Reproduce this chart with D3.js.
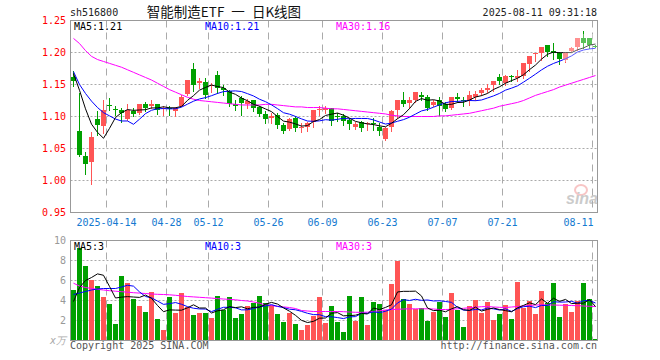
<!DOCTYPE html>
<html><head><meta charset="utf-8">
<script src="https://cdn.jsdelivr.net/npm/d3@7"></script>
<style>body{margin:0;background:#fff}svg{display:block}</style>
</head><body><svg id="c" width="660" height="360"></svg>
<script>
const dates = ["04-03","04-07","04-08","04-09","04-10","04-11","04-14","04-15","04-16","04-17","04-18","04-21","04-22","04-23","04-24","04-25","04-28","04-29","04-30","05-06","05-07","05-08","05-09","05-12","05-13","05-14","05-15","05-16","05-19","05-20","05-21","05-22","05-23","05-26","05-27","05-28","05-29","05-30","06-03","06-04","06-05","06-06","06-09","06-10","06-11","06-12","06-13","06-16","06-17","06-18","06-19","06-20","06-23","06-24","06-25","06-26","06-27","06-30","07-01","07-02","07-03","07-04","07-07","07-08","07-09","07-10","07-11","07-14","07-15","07-16","07-17","07-18","07-21","07-22","07-23","07-24","07-25","07-28","07-29","07-30","07-31","08-01","08-04","08-05","08-06","08-07","08-08","08-11"];
const open  = [1.162,1.077,1.039,1.029,1.096,1.085,1.118,1.112,1.110,1.096,1.109,1.106,1.119,1.117,1.120,1.111,1.113,1.109,1.117,1.135,1.174,1.153,1.154,1.148,1.165,1.144,1.140,1.119,1.129,1.119,1.125,1.115,1.104,1.098,1.102,1.086,1.081,1.097,1.082,1.083,1.092,1.110,1.110,1.113,1.100,1.100,1.094,1.083,1.091,1.088,1.090,1.083,1.065,1.083,1.110,1.126,1.121,1.126,1.134,1.130,1.118,1.125,1.119,1.113,1.131,1.126,1.125,1.131,1.137,1.141,1.150,1.161,1.152,1.163,1.160,1.163,1.182,1.197,1.199,1.211,1.202,1.199,1.189,1.203,1.209,1.223,1.223,1.210];
const high  = [1.171,1.137,1.045,1.076,1.109,1.126,1.129,1.116,1.113,1.120,1.113,1.120,1.122,1.126,1.120,1.117,1.117,1.115,1.134,1.157,1.184,1.160,1.160,1.152,1.171,1.150,1.141,1.126,1.132,1.127,1.125,1.117,1.108,1.105,1.105,1.090,1.098,1.100,1.090,1.092,1.110,1.116,1.117,1.114,1.105,1.104,1.097,1.092,1.093,1.092,1.097,1.090,1.084,1.110,1.126,1.138,1.131,1.138,1.138,1.134,1.125,1.131,1.122,1.131,1.137,1.130,1.140,1.140,1.144,1.151,1.156,1.166,1.165,1.165,1.173,1.183,1.195,1.200,1.208,1.211,1.215,1.201,1.201,1.209,1.223,1.233,1.223,1.212];
const low   = [1.147,1.038,1.010,0.995,1.071,1.075,1.110,1.102,1.091,1.095,1.100,1.104,1.109,1.113,1.104,1.103,1.103,1.100,1.116,1.134,1.140,1.144,1.129,1.139,1.137,1.133,1.117,1.110,1.103,1.114,1.109,1.100,1.090,1.090,1.082,1.074,1.079,1.077,1.076,1.077,1.084,1.102,1.105,1.086,1.093,1.087,1.081,1.081,1.077,1.079,1.079,1.071,1.064,1.077,1.097,1.116,1.113,1.122,1.126,1.110,1.116,1.102,1.109,1.112,1.122,1.117,1.118,1.126,1.134,1.138,1.140,1.151,1.150,1.156,1.155,1.160,1.171,1.187,1.189,1.194,1.190,1.182,1.185,1.202,1.204,1.207,1.207,1.208];
const close = [1.156,1.040,1.026,1.068,1.086,1.110,1.117,1.111,1.106,1.110,1.104,1.120,1.113,1.120,1.110,1.113,1.112,1.113,1.131,1.157,1.150,1.155,1.134,1.150,1.145,1.142,1.119,1.117,1.121,1.124,1.114,1.104,1.096,1.100,1.086,1.078,1.096,1.082,1.083,1.090,1.110,1.111,1.114,1.093,1.099,1.093,1.088,1.089,1.082,1.090,1.088,1.078,1.082,1.109,1.126,1.119,1.126,1.138,1.131,1.113,1.123,1.116,1.112,1.131,1.127,1.125,1.134,1.135,1.142,1.144,1.156,1.155,1.163,1.162,1.163,1.183,1.195,1.199,1.208,1.201,1.200,1.190,1.201,1.207,1.223,1.215,1.212,1.209];
const volume = [5.07,9.23,7.47,6.07,5.47,4.37,3.67,1.67,6.5,5.73,4.17,3.47,2.87,4.83,2.17,1.07,4.37,2.77,4.77,3.37,2.57,2.77,2.77,2.27,4.47,3.07,4.37,2.27,2.67,3.47,3.8,4.47,3.73,3.57,2.67,1.87,2.8,1.67,1.07,1.57,2.47,4.37,1.77,3.47,1.87,0.87,4.47,1.97,4.37,1.57,3.87,3.67,3.07,5.67,8.0,4.17,3.67,3.17,3.27,1.97,2.87,3.87,2.37,4.77,3.03,1.37,3.47,4.07,2.77,3.87,2.07,2.67,3.57,2.17,5.87,3.27,3.97,2.67,4.97,3.77,5.77,2.37,3.67,2.87,3.97,5.77,4.17,0.17];
const ma5Head = [1.167,1.141,1.112,1.088];
const ma10Head = [1.170,1.150,1.136,1.124,1.114,1.106,1.101,1.096,1.093];
const ma30 = [1.222,1.214,1.203,1.194,1.189,1.186,1.183,1.180,1.177,1.173,1.169,1.165,1.161,1.157,1.152,1.147,1.142,1.138,1.134,1.130,1.127,1.125,1.124,1.123,1.122,1.121,1.120,1.119,1.118,1.118,1.118,1.118,1.119,1.119,1.118,1.117,1.116,1.115,1.115,1.114,1.114,1.114,1.113,1.112,1.112,1.111,1.110,1.109,1.108,1.107,1.106,1.105,1.104,1.102,1.101,1.100,1.100,1.100,1.100,1.100,1.100,1.101,1.101,1.102,1.103,1.104,1.105,1.107,1.109,1.111,1.113,1.116,1.118,1.120,1.122,1.125,1.129,1.133,1.136,1.139,1.142,1.146,1.149,1.152,1.155,1.158,1.161,1.164];
const vMa5Head = [3.9,5.3,6.0,6.3];
const vMa10Head = [4.6,4.75,4.9,5.05,5.15,5.2,5.2,5.2,5.35];
const vMa30 = [5.73,5.45,5.3,5.2,5.12,5.05,4.98,4.93,4.88,4.83,4.78,4.74,4.7,4.65,4.62,4.6,4.57,4.52,4.46,4.4,4.36,4.32,4.28,4.24,4.19,4.15,4.11,4.07,4.0,3.95,3.85,3.73,3.55,3.48,3.42,3.36,3.3,3.2,3.0,2.95,2.9,2.9,2.9,2.9,2.9,2.88,2.85,2.82,2.82,2.83,2.9,2.98,3.05,3.1,3.12,3.15,3.17,3.17,3.17,3.17,3.15,3.1,3.1,3.12,3.17,3.22,3.28,3.33,3.38,3.4,3.35,3.32,3.3,3.35,3.4,3.45,3.5,3.55,3.57,3.55,3.55,3.53,3.52,3.5,3.48,3.45,3.42,3.4];
const priceTicks = [1.25,1.20,1.15,1.10,1.05,1.00,0.95];
const volTicks = [10,8,6,4,2];
const dateTicks = ["04-14","04-28","05-12","05-26","06-09","06-23","07-07","07-21","08-11"];
const dateTickLabels = ["2025-04-14","04-28","05-12","05-26","06-09","06-23","07-07","07-21","08-11"];
const priceMaLabels = ["MA5:1.21","MA10:1.21","MA30:1.16"];
const volMaLabels = ["MA5:3","MA10:3","MA30:3"];
const titleCode = "sh516800", titleName = "智能制造ETF 一 日K线图", stamp = "2025-08-11 09:31:18";

const RED = "#ff5555", GREEN = "#00a000", MONO = "'DejaVu Sans Mono','Liberation Mono',monospace";
const svg = d3.select("#c");
svg.append("rect").attr("width",660).attr("height",360).attr("fill","#fff");

const n = dates.length;
const x = d3.scaleBand().domain(d3.range(n)).range([71, 71 + 6*n - 1]).paddingInner(1/6).paddingOuter(0);
const cx = i => x(i) + x.bandwidth()/2;
const y = d3.scaleLinear().domain([0.95,1.25]).range([212.5,20.5]);
const yv = d3.scaleLinear().domain([0,10]).range([340.5,240.5]);
const L = 70.5, R = 597.5;

function movAvg(vals, k, head){
  return vals.map((v,i)=> i < k-1 ? head[i] : d3.mean(vals.slice(i-k+1,i+1)));
}
const ma5 = movAvg(close,5,ma5Head), ma10 = movAvg(close,10,ma10Head);
const vMa5 = movAvg(volume,5,vMa5Head), vMa10 = movAvg(volume,10,vMa10Head);

svg.append("defs").html('<clipPath id="cp"><rect x="71" y="21" width="526" height="191"/></clipPath><clipPath id="cv"><rect x="71" y="241" width="526" height="99"/></clipPath>');

// header
svg.append("text").attr("x",70).attr("y",16).attr("font-family",MONO).attr("font-size",10).attr("fill","#222").text(titleCode);
svg.append("text").attr("x",224).attr("y",17).attr("text-anchor","middle").attr("font-family","'Noto Sans CJK SC',sans-serif").attr("font-size",13.5).attr("word-spacing",4).attr("fill","#111").text(titleName);
svg.append("text").attr("x",597).attr("y",16).attr("text-anchor","end").attr("font-family",MONO).attr("font-size",10).attr("fill","#222").text(stamp);

// grids
const tickIdx = dateTicks.map(d=>dates.indexOf(d));
function panel(yTop, yBot, gridYs){
  const g = svg.append("g");
  g.selectAll("line.h").data(gridYs).join("line")
    .attr("x1",L).attr("x2",R).attr("y1",d=>d).attr("y2",d=>d)
    .attr("stroke","#aaa").attr("stroke-dasharray","2,2");
  g.selectAll("line.v").data(tickIdx).join("line")
    .attr("x1",i=>x(i)-0.5).attr("x2",i=>x(i)-0.5).attr("y1",yTop).attr("y2",yBot)
    .attr("stroke","#aaa").attr("stroke-dasharray","7,5");
  g.append("rect").attr("x",L).attr("y",yTop).attr("width",R-L).attr("height",yBot-yTop)
    .attr("fill","none").attr("stroke","#999");
}
panel(20.5, 212.5, priceTicks.slice(1,-1).map(y));
panel(240.5, 340.5, volTicks.slice(1).map(yv));

// price labels
svg.selectAll("text.pl").data(priceTicks).join("text")
  .attr("x",66).attr("y",d=>y(d)+3.5).attr("text-anchor","end")
  .attr("font-family",MONO).attr("font-size",10).attr("fill","#f00").text(d=>d.toFixed(2));
// volume labels
svg.selectAll("text.vl").data(volTicks).join("text")
  .attr("x",66).attr("y",d=>yv(d)+3.5).attr("text-anchor","end")
  .attr("font-family",MONO).attr("font-size",10).attr("fill","#999").text(d=>d);
svg.append("text").attr("x",66).attr("y",344).attr("text-anchor","end").attr("font-family",MONO)
  .attr("font-size",10).attr("fill","#aaa").attr("font-style","italic").text("x万");

// date labels
svg.selectAll("text.dl").data(tickIdx).join("text")
  .attr("x",(i,k)=> k===tickIdx.length-1 ? x(i)+0.5 : x(i)-0.5)
  .attr("y",226).attr("text-anchor",(i,k)=> k===tickIdx.length-1 ? "end":"middle")
  .attr("font-family",MONO).attr("font-size",10).attr("fill","#1479d0")
  .text((i,k)=>dateTickLabels[k]);

// watermark
const wm = svg.append("g").attr("opacity",0.6);
wm.append("ellipse").attr("cx",581).attr("cy",190).attr("rx",6).attr("ry",5).attr("fill","none").attr("stroke","#f4a0a0").attr("stroke-width",2);
wm.append("text").attr("x",566).attr("y",204).attr("font-family","'Liberation Sans',Arial,sans-serif")
  .attr("font-size",16).attr("font-weight","bold").attr("font-style","italic").attr("fill","#aaa").text("sina");

// candles
const cg = svg.append("g").attr("clip-path","url(#cp)");
const idx = d3.range(n);
const up = i => close[i] >= open[i];
cg.selectAll("line.w").data(idx).join("line")
  .attr("x1",i=>cx(i)).attr("x2",i=>cx(i))
  .attr("y1",i=>Math.round(y(high[i]))).attr("y2",i=>Math.round(y(low[i]))+1)
  .attr("stroke",i=>up(i)?RED:GREEN);
cg.selectAll("rect.b").data(idx).join("rect")
  .attr("x",i=>x(i)).attr("width",x.bandwidth())
  .attr("y",i=>Math.round(y(Math.max(open[i],close[i]))))
  .attr("height",i=>Math.max(1, Math.round(y(Math.min(open[i],close[i]))) - Math.round(y(Math.max(open[i],close[i])))))
  .attr("fill",i=>up(i)?RED:GREEN);

// MA lines (price)
const lineP = d3.line().x((d,i)=>cx(i)).y(d=>y(d));
[[ma30,"#ff00ff"],[ma10,"#0000ff"],[ma5,"#000"]].forEach(([arr,c])=>{
  cg.append("path").attr("d",lineP(arr)).attr("fill","none").attr("stroke",c).attr("stroke-width",1);
});
// faded watermark block at top right
svg.append("rect").attr("x",563).attr("y",34).attr("width",34).attr("height",28).attr("fill","#fff").attr("opacity",0.35);

// volume bars
const vg = svg.append("g").attr("clip-path","url(#cv)");
vg.selectAll("rect.v").data(idx).join("rect")
  .attr("x",i=>x(i)).attr("width",x.bandwidth())
  .attr("y",i=>Math.round(yv(volume[i]))).attr("height",i=>Math.max(1,340.5-Math.round(yv(volume[i]))))
  .attr("fill",i=>up(i)?RED:GREEN);
const lineV = d3.line().x((d,i)=>cx(i)).y(d=>yv(d));
[[vMa30,"#ff00ff"],[vMa10,"#0000ff"],[vMa5,"#000"]].forEach(([arr,c])=>{
  vg.append("path").attr("d",lineV(arr)).attr("fill","none").attr("stroke",c).attr("stroke-width",1);
});

// MA labels
const maColors = ["#000","#0000ff","#ff00ff"], maX = [74,205,336];
priceMaLabels.forEach((t,k)=> svg.append("text").attr("x",maX[k]).attr("y",30).attr("font-family",MONO).attr("font-size",10).attr("fill",maColors[k]).text(t));
volMaLabels.forEach((t,k)=> svg.append("text").attr("x",maX[k]).attr("y",250).attr("font-family",MONO).attr("font-size",10).attr("fill",maColors[k]).text(t));

// footer
svg.append("text").attr("x",70).attr("y",349).attr("font-family",MONO).attr("font-size",10).attr("fill","#555").text("Copyright 2025 SINA.COM");
svg.append("text").attr("x",597).attr("y",349).attr("text-anchor","end").attr("font-family",MONO).attr("font-size",10).attr("fill","#555").text("http://finance.sina.com.cn");
</script></body></html>
